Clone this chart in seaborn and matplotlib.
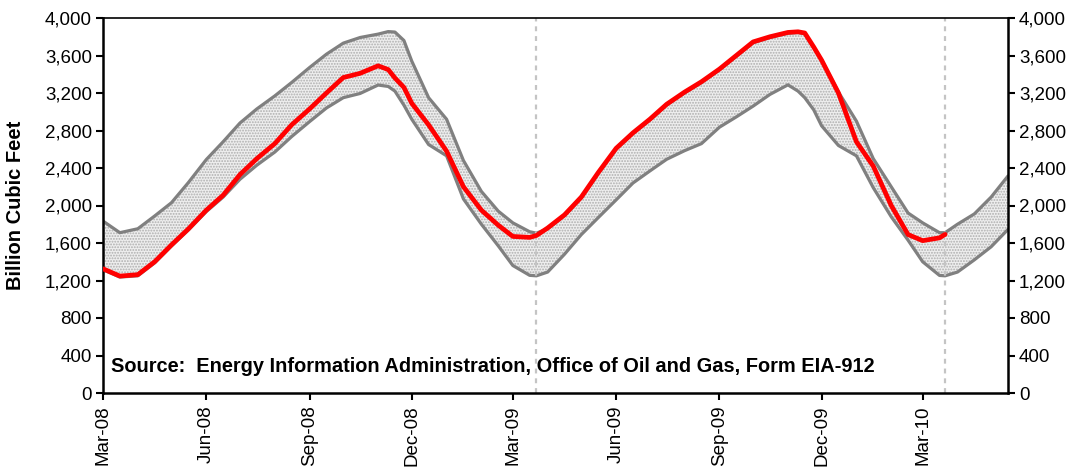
import pandas as pd
import numpy as np
import seaborn as sns
import matplotlib.pyplot as plt
import matplotlib.dates as mdates
from matplotlib.ticker import FuncFormatter, MultipleLocator

# semi-monthly readings (plus a few turning points), Bcf
dates = [
    "2008-03-01", "2008-03-16", "2008-04-01", "2008-04-16", "2008-05-01", "2008-05-16",
    "2008-06-01", "2008-06-16", "2008-07-01", "2008-07-16", "2008-08-01", "2008-08-16",
    "2008-09-01", "2008-09-16", "2008-10-01", "2008-10-16", "2008-11-01", "2008-11-10",
    "2008-11-16", "2008-11-24", "2008-12-01", "2008-12-16", "2009-01-01", "2009-01-16",
    "2009-02-01", "2009-02-16", "2009-03-01", "2009-03-16", "2009-03-22", "2009-04-01",
    "2009-04-16", "2009-05-01", "2009-05-16", "2009-06-01", "2009-06-16", "2009-07-01",
    "2009-07-16", "2009-08-01", "2009-08-16", "2009-09-01", "2009-09-16", "2009-10-01",
    "2009-10-16", "2009-11-01", "2009-11-10", "2009-11-16", "2009-11-24", "2009-12-01",
    "2009-12-16", "2010-01-01", "2010-01-16", "2010-02-01", "2010-02-16", "2010-03-01",
    "2010-03-16", "2010-03-21", "2010-04-01", "2010-04-16", "2010-05-01", "2010-05-16",
]

five_yr_max = [
    1834, 1710, 1752, 1888, 2030, 2244,
    2490, 2680, 2880, 3030, 3169, 3312,
    3472, 3614, 3732, 3792, 3828, 3855,
    3850, 3760, 3540, 3150, 2920, 2480,
    2150, 1940, 1815, 1720, 1705, 1752,
    1892, 2082, 2342, 2602, 2768, 2912,
    3072, 3202, 3312, 3447, 3592, 3737,
    3792, 3838, 3845, 3832, 3685, 3552,
    3210, 2900, 2500, 2200, 1920, 1815,
    1710, 1710, 1800, 1910, 2090, 2315,
]

five_yr_min = [
    1315, 1237, 1250, 1388, 1568, 1738,
    1935, 2090, 2280, 2430, 2570, 2735,
    2895, 3040, 3150, 3195, 3285, 3270,
    3220, 3070, 2920, 2650, 2530, 2070,
    1800, 1570, 1360, 1255, 1250, 1290,
    1480, 1690, 1870, 2060, 2240, 2368,
    2493, 2585, 2660, 2835, 2945, 3060,
    3185, 3287, 3220, 3150, 3020, 2850,
    2640, 2530, 2190, 1880, 1630, 1400,
    1254, 1250, 1290, 1420, 1560, 1745,
]

storage = [
    1325, 1247, 1262, 1400, 1580, 1750,
    1950, 2110, 2330, 2500, 2660, 2860,
    3030, 3200, 3365, 3410, 3490, 3450,
    3360, 3260, 3090, 2860, 2580, 2200,
    1950, 1790, 1670, 1660, 1680, 1760,
    1900, 2090, 2350, 2610, 2775, 2920,
    3080, 3210, 3320, 3455, 3600, 3745,
    3800, 3846, 3853, 3840, 3690, 3550,
    3200, 2680, 2420, 2000, 1690, 1625,
    1655, 1692, None, None, None, None,
]

marker_dates = ["2009-03-22", "2010-03-21"]
source_note = "Source:  Energy Information Administration, Office of Oil and Gas, Form EIA-912"

df = pd.DataFrame({
    "date": pd.to_datetime(dates),
    "max": five_yr_max,
    "min": five_yr_min,
    "storage": pd.to_numeric(pd.Series(storage), errors="coerce"),
})

sns.set_style("ticks")
plt.rcParams['font.family'] = ['Liberation Sans', 'DejaVu Sans']
plt.rcParams['text.color'] = 'black'
plt.rcParams['axes.labelcolor'] = 'black'
plt.rcParams['xtick.color'] = 'black'
plt.rcParams['ytick.color'] = 'black'
plt.rcParams['hatch.linewidth'] = 0.9

fig = plt.figure(figsize=(10.71, 4.76), dpi=100)
ax = fig.add_axes([103 / 1071, 83 / 476, 905 / 1071, 375 / 476])

# stippled range band
ax.fill_between(df["date"], df["min"], df["max"], facecolor="#eeeeee",
                hatch="......", edgecolor="#aeaeae", linewidth=0, zorder=1)
sns.lineplot(data=df, x="date", y="max", color="#808080", lw=2.3, ax=ax, zorder=2)
sns.lineplot(data=df, x="date", y="min", color="#808080", lw=2.3, ax=ax, zorder=2)
sns.lineplot(data=df.dropna(subset=["storage"]), x="date", y="storage",
             color="#ff0000", lw=3.4, ax=ax, zorder=3)

for d in marker_dates:
    ax.axvline(pd.Timestamp(d), color="#c4c4c4", lw=1.6, ls=(0, (2.2, 2.2)), zorder=2.5)

ax.set_xlim(pd.Timestamp("2008-03-01"), pd.Timestamp("2010-05-16"))
ax.set_ylim(0, 4000)
ax.yaxis.set_major_locator(MultipleLocator(400))
ax.yaxis.set_major_formatter(FuncFormatter(lambda v, p: f"{v:,.0f}"))
ax.xaxis.set_major_locator(mdates.MonthLocator(bymonth=[3, 6, 9, 12]))
ax.xaxis.set_major_formatter(mdates.DateFormatter("%b-%y"))

ax.tick_params(axis="y", left=True, right=True, labelleft=True, labelright=True,
               direction="out", length=5, width=1.5, labelsize=13.5, pad=3, colors="black")
ax.tick_params(axis="x", direction="out", length=5, width=1.5, labelsize=13.5,
               pad=4, labelrotation=90, colors="black")

ax.set_xlabel("")
ax.set_ylabel("Billion Cubic Feet", fontsize=14.5, fontweight="bold", color="black")
ax.yaxis.set_label_coords(-0.086, 0.5)

for side in ["left", "right", "bottom"]:
    ax.spines[side].set_linewidth(1.8)
    ax.spines[side].set_color("black")
ax.spines["top"].set_linewidth(1.2)
ax.spines["top"].set_color("black")

ax.text(0.009, 0.072, source_note, transform=ax.transAxes, ha="left", va="center",
        fontsize=14.4, fontweight="bold", color="black")

fig.savefig("out.png", dpi=100, facecolor="white")
